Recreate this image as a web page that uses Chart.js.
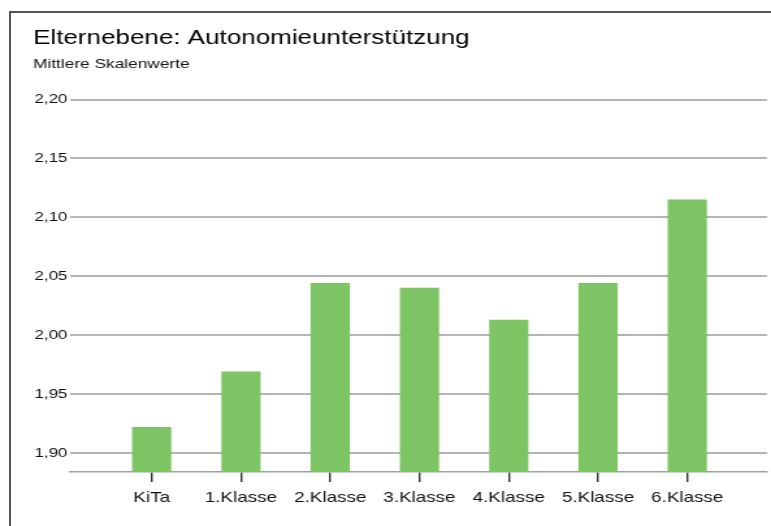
<!DOCTYPE html>
<html>
<head>
<meta charset="utf-8">
<script src="https://cdn.jsdelivr.net/npm/chart.js@4.4.1/dist/chart.umd.min.js"></script>
<style>
  html, body { margin: 0; padding: 0; background: #fff; width: 771px; height: 526px; overflow: hidden; }
  #frame { position: absolute; left: 9px; top: 11px; width: 900px; height: 700px;
           border-left: 2px solid #555; border-top: 2px solid #555; }
  #wrap { position: absolute; left: 0; top: 0; width: 593px; height: 526px;
          transform: scaleX(1.30017); transform-origin: 0 0; }
</style>
</head>
<body>
<div id="frame"></div>
<div id="wrap"><canvas id="c"></canvas></div>
<script>
const titleText = 'Elternebene: Autonomieunterstützung';
const subtitleText = 'Mittlere Skalenwerte';
const categories = ['KiTa', '1.Klasse', '2.Klasse', '3.Klasse', '4.Klasse', '5.Klasse', '6.Klasse'];
const values = [1.922, 1.969, 2.044, 2.040, 2.013, 2.044, 2.115];
const yTicks = [1.90, 1.95, 2.00, 2.05, 2.10, 2.15, 2.20];
const yMin = 1.884;
const yMax = 2.20;

const FONT = "'Liberation Sans', Arial, sans-serif";

new Chart(document.getElementById('c'), {
  type: 'bar',
  data: {
    datasets: [{
      data: categories.map((c, i) => ({ x: i, y: values[i] })),
      backgroundColor: '#7cc464',
      borderWidth: 0,
      barThickness: 29.5
    }]
  },
  options: {
    responsive: true,
    maintainAspectRatio: false,
    animation: false,
    layout: { padding: { left: 25.4, right: 3.1, top: 0, bottom: 0 } },
    plugins: {
      legend: { display: false },
      tooltip: { enabled: false },
      title: {
        display: true, text: titleText, align: 'start', color: '#000',
        font: { family: FONT, size: 20, weight: 'normal', lineHeight: 1.2 },
        padding: { top: 26, bottom: 0 }
      },
      subtitle: {
        display: true, text: subtitleText, align: 'start', color: '#111',
        font: { family: FONT, size: 13.3, weight: 'normal', lineHeight: 1.2 },
        padding: { top: 6.5, bottom: 27.1 }
      }
    },
    scales: {
      x: {
        type: 'linear',
        offset: false,
        min: -0.915,
        max: 6.893,
        afterBuildTicks: (s) => { s.ticks = categories.map((c, i) => ({ value: i })); },
        afterFit: (s) => { s.height = 54; },
        ticks: {
          callback: (v) => categories[v],
          color: '#111', font: { family: FONT, size: 14.5 },
          padding: 7, maxRotation: 0, autoSkip: false
        },
        grid: { offset: false, drawOnChartArea: false, drawTicks: true, tickLength: 10, color: '#333', lineWidth: 1.4 },
        border: { display: true, color: '#a0a0a0', width: 1.5 }
      },
      y: {
        min: yMin,
        max: yMax,
        afterBuildTicks: (s) => { s.ticks = yTicks.map(v => ({ value: v })); },
        afterFit: (s) => { s.width = 28.45; },
        ticks: {
          callback: (v) => v.toFixed(2).replace('.', ','),
          color: '#111', font: { family: FONT, size: 13 }, padding: 2
        },
        grid: { drawTicks: false, color: '#b4b4b4', lineWidth: 2 },
        border: { display: false }
      }
    }
  }
});
</script>
</body>
</html>
